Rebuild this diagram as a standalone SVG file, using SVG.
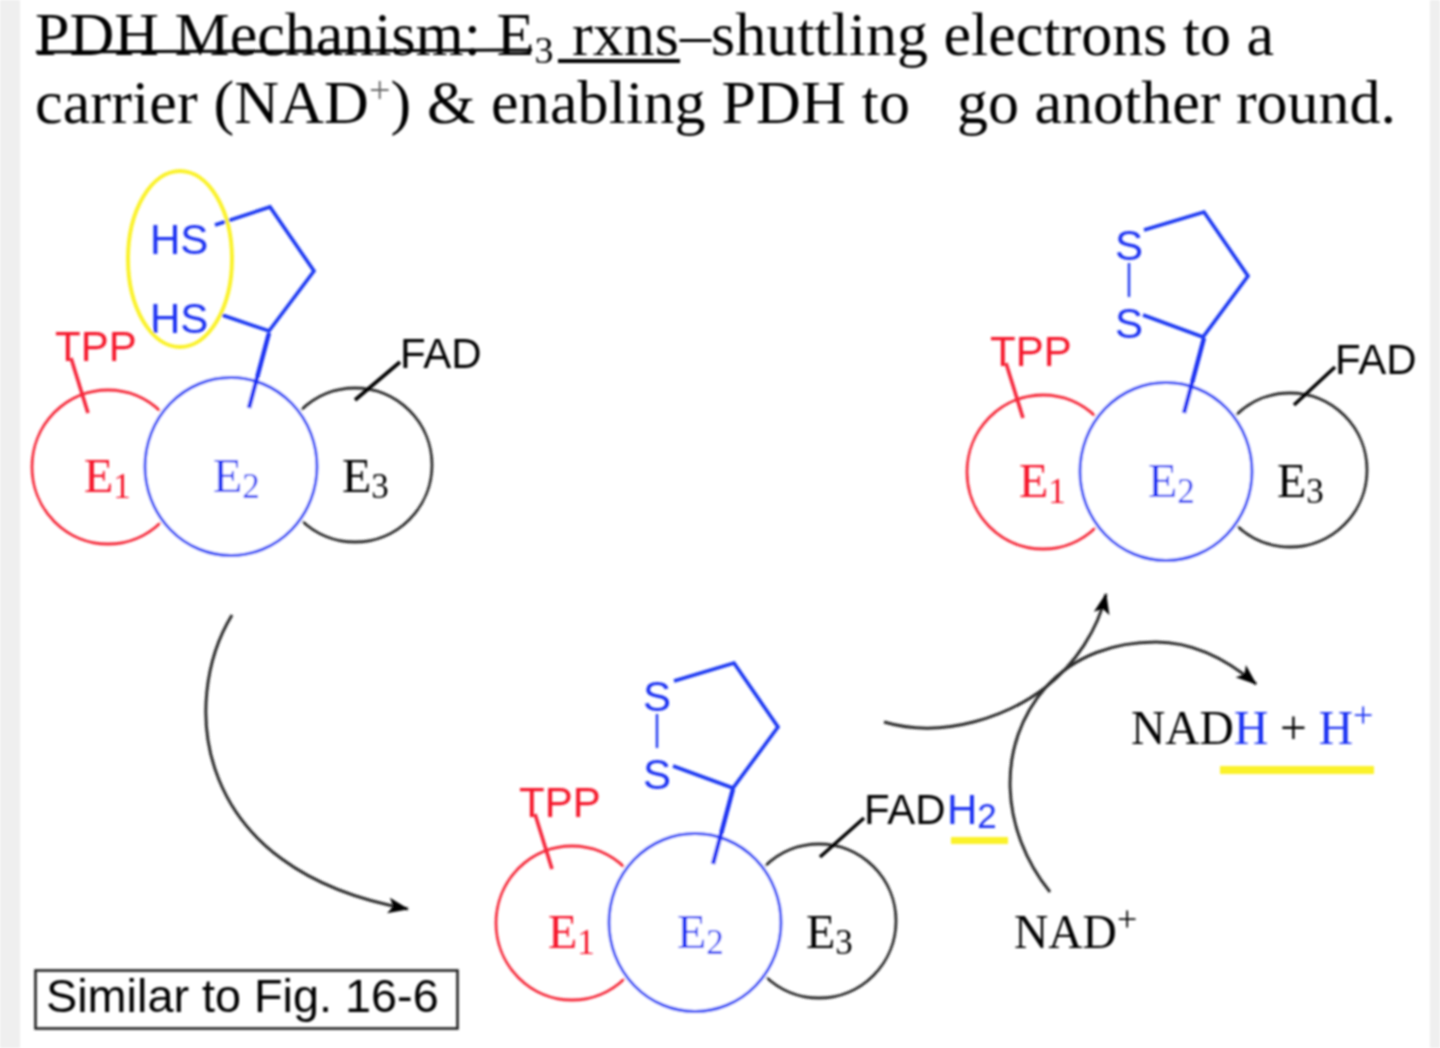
<svg xmlns="http://www.w3.org/2000/svg" width="1440" height="1048" viewBox="0 0 1440 1048">
<style>
.s{font-family:"Liberation Serif","Times New Roman",serif}
.a{font-family:"Liberation Sans",Arial,sans-serif}
.t{font-size:62px;fill:#000}
.e{font-size:48px}
.sub{font-size:35px}
.lbl{font-size:42px}
.red{fill:#f5152a}.blue{fill:#1a30f2}.blk{fill:#000}
.cr{fill:none;stroke:#f52a3a;stroke-width:2.8}
.cb{fill:#fff;stroke:#3048f5;stroke-width:3}
.ck{fill:none;stroke:#2a2a2a;stroke-width:2.8}
.halo{fill:none;stroke:#fff;stroke-width:3}
.ring{fill:none;stroke:#1a38f2;stroke-width:3.6;stroke-linejoin:miter}
.stem{fill:none;stroke:#1a30f2;stroke-width:4.4}
.lr{stroke:#f5253a;stroke-width:3.6;fill:none}
.lk{stroke:#000;stroke-width:3.6;fill:none}
.arc{fill:none;stroke:#2a2a2a;stroke-width:3;marker-end:url(#ah)}
.ss{stroke:#1a38f2;stroke-width:2.4;fill:none}
.hl{fill:#fbf22c}
</style>
<defs>
<marker id="ah" markerUnits="userSpaceOnUse" markerWidth="24" markerHeight="18" refX="20" refY="8" orient="auto"><path d="M0,0 L21,8 L0,16 L5,8 Z" fill="#000"/></marker>
<filter id="soft" x="0" y="0" width="100%" height="100%"><feGaussianBlur stdDeviation="0.8"/></filter>
<g id="enz">
<ellipse class="cr" cx="108" cy="467" rx="76" ry="77"/>
<circle class="ck" cx="355" cy="465" r="77"/>
<ellipse class="halo" cx="231" cy="466.500" rx="88" ry="91"/>
<ellipse class="cb" cx="231" cy="466.500" rx="86" ry="89"/>
<text class="s e red" x="84" y="492">E<tspan class="sub" dy="6">1</tspan></text>
<text class="s e blue" x="213" y="492">E<tspan class="sub" dy="6">2</tspan></text>
<text class="s e blk" x="342" y="492">E<tspan class="sub" dy="6">3</tspan></text>
<path class="lr" d="M71,358 L88,413"/>
<path class="stem" d="M269,333 L249,408"/>
<text class="a lbl red" x="55" y="361">TPP</text>
</g>
<path id="disring" class="ring" d="M674,681 L734,663 L778,727 L733,788 L673,766"/>
<g id="disS">
<path class="ss" d="M657,714 L657,748"/>
<text class="a lbl blue" x="643" y="711">S</text>
<text class="a lbl blue" x="643" y="789">S</text>
</g>
</defs>
<rect width="1440" height="1048" fill="#fff"/>
<g filter="url(#soft)">
<rect x="0" y="0" width="20" height="1048" fill="#efefef"/>
<rect x="1430" y="0" width="10" height="1048" fill="#efefef"/>

<g id="title">
<text class="s t" x="35" y="55">PDH Mechanism: E<tspan font-size="38" dy="8">3</tspan></text>
<text class="s t" x="572" y="55">rxns</text>
<text class="s t" x="680" y="55">–shuttling electrons to a</text>
<text class="s t" x="35" y="123" letter-spacing="0.150">carrier (NAD<tspan font-size="38" dy="-20" fill="#666">+</tspan><tspan dy="20">) &amp; enabling PDH to</tspan></text>
<text class="s t" x="957" y="123">go another round.</text>
<path d="M36,52 L532,50" stroke="#000" stroke-width="3" fill="none"/>
<path d="M558,61 L680,61" stroke="#000" stroke-width="3.8" fill="none"/>
</g>

<g id="complex-top-left">
<use href="#enz"/>
<path class="ring" d="M215,225 L270,207 L314,271 L269,331 L222,315"/>
<text class="a lbl blue" x="150" y="254">HS</text>
<text class="a lbl blue" x="150" y="333">HS</text>
<path class="lk" d="M400,362 L355,400"/>
<text class="a lbl blk" x="400" y="368">FAD</text>
<ellipse cx="180" cy="259" rx="52" ry="88" fill="none" stroke="#fbf22c" stroke-width="4"/>
</g>

<g id="complex-top-right">
<use href="#enz" transform="translate(935,5)"/>
<use href="#disring" transform="translate(470,-451)"/>
<use href="#disS" transform="translate(472,-451)"/>
<path class="lk" d="M1335,367 L1294,405"/>
<text class="a lbl blk" x="1335" y="374">FAD</text>
</g>

<g id="complex-bottom">
<use href="#enz" transform="translate(464,456)"/>
<use href="#disring"/>
<use href="#disS"/>
<path class="lk" d="M864,818 L820,857"/>
<text class="a lbl blk" x="864" y="824">FAD</text>
<text class="a lbl blue" x="947" y="824">H<tspan font-size="35" dy="4">2</tspan></text>
<rect class="hl" x="951" y="837" width="57" height="7"/>
</g>

<g id="connectors">
<path class="arc" d="M232,615 C180,700 190,870 408,909"/>
<path class="arc" d="M884,722 C945,740 1010,715 1046,687 C1075,664 1098,630 1106,594"/>
<path class="arc" d="M1050,892 C1000,830 995,745 1046,687 C1075,655 1115,642 1156,642 C1195,642 1230,662 1256,684"/>
</g>

<g id="nadh">
<text class="s" font-size="47.500" x="1131" y="744" fill="#000">NAD<tspan class="blue">H</tspan> + <tspan class="blue">H<tspan font-size="36" dy="-17">+</tspan></tspan></text>
<rect class="hl" x="1220" y="766" width="154" height="8"/>
</g>
<g id="nad">
<text class="s" font-size="47.500" x="1014" y="948" fill="#000">NAD<tspan font-size="36" dy="-17">+</tspan></text>
</g>
<g id="note">
<rect x="35.500" y="970.500" width="422" height="58" fill="none" stroke="#222" stroke-width="2.6"/>
<text class="a" font-size="46.800" x="46" y="1012" fill="#000">Similar to Fig. 16-6</text>
</g>
</g>
</svg>
